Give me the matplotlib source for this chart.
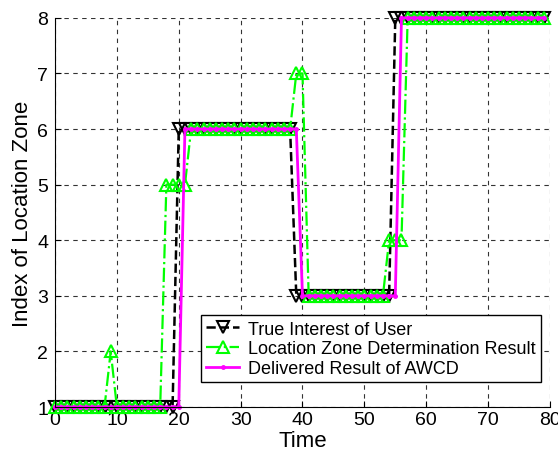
import numpy as np
import matplotlib.pyplot as plt

plt.rcParams['font.family'] = ['Liberation Sans', 'DejaVu Sans']

t = np.arange(0, 80)

# true interest of user
true_vals = [1] * 20 + [6] * 19 + [3] * 16 + [8] * 25
# location zone determination result
det_vals = ([1] * 9 + [2] + [1] * 8 + [5] * 4 + [6] * 17 + [7] * 2
            + [3] * 13 + [4] * 3 + [8] * 23)
# delivered result of AWCD
awcd_vals = [1] * 21 + [6] * 19 + [3] * 16 + [8] * 24

fig = plt.figure(figsize=(5.58, 4.52), dpi=100)
ax = fig.add_axes([0.0986, 0.0973, 0.887, 0.861])

ax.plot(t, true_vals, linestyle='--', color='black', linewidth=1.8,
        marker='v', markersize=9, markerfacecolor='none',
        markeredgecolor='black', markeredgewidth=1.5, clip_on=False,
        label='True Interest of User')
ax.plot(t, det_vals, linestyle='-.', color='#00ff00', linewidth=1.6,
        marker='^', markersize=9, markerfacecolor='none',
        markeredgecolor='#00ff00', markeredgewidth=1.5, clip_on=False,
        label='Location Zone Determination Result')
ax.plot(t, awcd_vals, linestyle='-', color='#ff00ff', linewidth=2,
        marker='.', markersize=5, clip_on=False,
        label='Delivered Result of AWCD')

ax.set_xlim(0, 80)
ax.set_ylim(1, 8)
ax.set_xticks(range(0, 81, 10))
ax.set_yticks(range(1, 9))
ax.grid(True, linestyle=(0, (4, 4)), color='black', linewidth=0.8, alpha=0.8)
ax.spines['top'].set_visible(False)
ax.spines['right'].set_visible(False)
ax.tick_params(direction='in', labelsize=14, length=4)
ax.tick_params(axis='x', pad=3)
ax.tick_params(axis='y', pad=5)
ax.set_xlabel('Time', fontsize=16, labelpad=1)
ax.set_ylabel('Index of Location Zone', fontsize=16, labelpad=3)

leg = ax.legend(loc='lower right', bbox_to_anchor=(1.0, 0.04), fontsize=13,
                frameon=True, fancybox=False, edgecolor='black',
                framealpha=1, borderpad=0.3, labelspacing=0.15,
                handlelength=1.8, handletextpad=0.5)
leg.get_frame().set_linewidth(1)

fig.savefig('out.png', dpi=100)
